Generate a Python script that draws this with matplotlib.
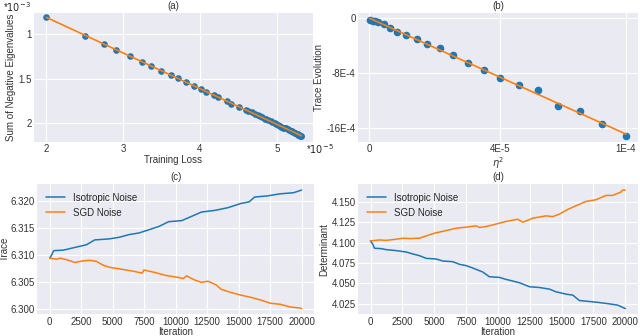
import numpy as np
import matplotlib
matplotlib.use("Agg")
import matplotlib.pyplot as plt

# (a) training loss (x1e-5) vs |sum of negative eigenvalues| (x1e-3)
loss = [2.00, 2.51, 2.75, 2.91, 3.09, 3.25, 3.36, 3.49, 3.62, 3.71, 3.82, 3.92,
        4.02, 4.08, 4.18, 4.24, 4.35, 4.41, 4.51, 4.60, 4.63, 4.68, 4.72, 4.75,
        4.78, 4.81, 4.84, 4.86, 4.89, 4.92, 4.94, 4.97, 4.99, 5.02, 5.04, 5.06,
        5.08, 5.10, 5.12, 5.14, 5.16, 5.18, 5.20, 5.21, 5.23, 5.24, 5.26, 5.27,
        5.28, 5.29, 5.30, 5.31, 5.32]
neg_eig = [0.81, 1.02, 1.11, 1.18, 1.25, 1.31, 1.36, 1.41, 1.46, 1.49, 1.54, 1.58,
           1.62, 1.65, 1.68, 1.71, 1.75, 1.78, 1.82, 1.85, 1.86, 1.88, 1.90, 1.91,
           1.92, 1.93, 1.95, 1.95, 1.97, 1.98, 1.99, 2.00, 2.01, 2.02, 2.03, 2.04,
           2.05, 2.06, 2.06, 2.07, 2.08, 2.09, 2.09, 2.10, 2.11, 2.11, 2.12, 2.12,
           2.13, 2.13, 2.14, 2.14, 2.15]

# (b) eta^2 vs trace evolution
eta2 = [0.65e-6, 1.69e-6, 2.46e-6, 3.76e-6, 5.71e-6, 8.17e-6, 11.15e-6, 14.53e-6,
        18.55e-6, 22.70e-6, 27.63e-6, 32.81e-6, 38.52e-6, 44.62e-6, 51.10e-6,
        58.24e-6, 65.63e-6, 73.41e-6, 81.97e-6, 90.79e-6, 100.0e-6]
trace_evo = [-0.29e-4, -0.34e-4, -0.39e-4, -0.58e-4, -0.87e-4, -1.45e-4, -1.93e-4,
             -2.47e-4, -2.95e-4, -3.77e-4, -4.30e-4, -5.37e-4, -6.57e-4, -7.49e-4,
             -8.75e-4, -9.67e-4, -10.39e-4, -12.76e-4, -13.58e-4, -15.47e-4, -17.21e-4]
b_xticks = [0, 5.1e-5, 1e-4]
b_xticklabels = ["0", "4E-5", "1E-4"]
b_yticks = [0, -8e-4, -16e-4]
b_yticklabels = ["0", "-8E-4", "-16E-4"]

# (c) trace over iterations
c_iso_it = [0, 130, 313, 1095, 2000, 2920, 3570, 4750, 5530, 6310, 7090, 7875,
            8660, 9440, 10480, 11270, 12050, 13090, 14130, 15180, 15830, 16270,
            17260, 18300, 19350, 20000]
c_iso = [6.3094, 6.3099, 6.3108, 6.3109, 6.3114, 6.3119, 6.3128, 6.3130, 6.3133,
         6.3138, 6.3141, 6.3147, 6.3153, 6.3162, 6.3164, 6.3172, 6.3180, 6.3183,
         6.3188, 6.3196, 6.3199, 6.3208, 6.3210, 6.3214, 6.3216, 6.3221]
c_sgd_it = [0, 570, 830, 1360, 2000, 2660, 3180, 3700, 4230, 4750, 5530, 6570,
            7350, 7480, 8400, 9180, 10220, 10610, 10870, 11530, 12050, 12570,
            13220, 13610, 14390, 15180, 15960, 16740, 17520, 18300, 19090, 19500,
            19870, 20000]
c_sgd = [6.3094, 6.3092, 6.3094, 6.3091, 6.3086, 6.3089, 6.3090, 6.3088, 6.3081,
         6.3077, 6.3074, 6.3070, 6.3066, 6.3072, 6.3067, 6.3062, 6.3058, 6.3056,
         6.3061, 6.3053, 6.3049, 6.3051, 6.3044, 6.3036, 6.3030, 6.3025, 6.3021,
         6.3016, 6.3010, 6.3008, 6.3003, 6.3002, 6.3001, 6.3000]

# (d) determinant over iterations
d_iso_it = [0, 180, 314, 850, 1230, 2020, 2800, 3320, 3840, 4370, 5150, 5690,
            6460, 6990, 7500, 8030, 8810, 9330, 10120, 10650, 11170, 11690, 12480,
            13250, 14040, 14560, 15350, 15880, 16390, 17180, 17960, 18740, 19400,
            20000]
d_iso = [4.1023, 4.0982, 4.0933, 4.0928, 4.0916, 4.0904, 4.0887, 4.0863, 4.0842,
         4.0809, 4.0801, 4.0776, 4.0768, 4.0735, 4.0720, 4.0690, 4.0641, 4.0583,
         4.0575, 4.0550, 4.0530, 4.0509, 4.0460, 4.0451, 4.0431, 4.0398, 4.0369,
         4.0357, 4.0291, 4.0279, 4.0266, 4.0250, 4.0234, 4.0192]
d_sgd_it = [0, 700, 1230, 2020, 2540, 3200, 3600, 3840, 4370, 5020, 5930, 6720,
            7500, 8290, 8550, 9070, 9590, 10640, 11560, 11950, 12750, 13780, 14300,
            14820, 15480, 16130, 16910, 17700, 18480, 19000, 19650, 19780, 20000]
d_sgd = [4.1023, 4.1035, 4.1030, 4.1044, 4.1056, 4.1052, 4.1056, 4.1056, 4.1085,
         4.1118, 4.1150, 4.1179, 4.1192, 4.1208, 4.1188, 4.1200, 4.1220, 4.1262,
         4.1290, 4.1253, 4.1303, 4.1331, 4.1322, 4.1352, 4.1410, 4.1455, 4.1508,
         4.1529, 4.1582, 4.1582, 4.1623, 4.1648, 4.1648]

plt.style.use("seaborn-v0_8-darkgrid")
plt.rcParams["font.family"] = ["Liberation Sans", "DejaVu Sans"]
plt.rcParams["font.size"] = 7
plt.rcParams["axes.titlesize"] = 7
plt.rcParams["axes.labelsize"] = 7
plt.rcParams["xtick.labelsize"] = 7
plt.rcParams["ytick.labelsize"] = 7
tc = "#333333"

fig = plt.figure(figsize=(6.4, 3.36), dpi=100)
ax_a = fig.add_axes([0.053, 0.578, 0.436, 0.384])
ax_b = fig.add_axes([0.559, 0.578, 0.438, 0.384])
ax_c = fig.add_axes([0.058, 0.064, 0.433, 0.388])
ax_d = fig.add_axes([0.559, 0.064, 0.438, 0.388])

# (a)
ax_a.scatter(loss, neg_eig, s=14, color="#1f77b4", zorder=3)
pa = np.polyfit(loss, neg_eig, 1)
xa = np.array([min(loss), max(loss)])
ax_a.plot(xa, np.polyval(pa, xa), color="#ff7f0e", lw=1.2, zorder=4)
ax_a.set_xlim(1.84, 5.47)
ax_a.set_ylim(2.21, 0.76)
ax_a.set_xticks([2, 3, 4, 5])
ax_a.set_xticklabels(["2", "3", "4", "5"])
ax_a.set_yticks([1, 1.5, 2])
ax_a.set_yticklabels(["1", "1.5", "2"])
ax_a.set_xlabel("Training Loss", labelpad=1)
ax_a.set_ylabel("Sum of Negative Eigenvalues", labelpad=2)
ax_a.set_title("(a)", pad=3)
fig.text(0.004, 0.978, r"*$10^{-3}$", fontsize=7, va="center")
fig.text(0.478, 0.555, r"*$10^{-5}$", fontsize=7, va="center")

# (b)
ax_b.scatter(eta2, trace_evo, s=20, color="#1f77b4", zorder=3)
pb = np.polyfit(eta2, trace_evo, 1)
xb = np.array([min(eta2) * 0.5, max(eta2)])
ax_b.plot(xb, np.polyval(pb, xb), color="#ff7f0e", lw=1.2, zorder=4)
ax_b.set_xlim(-0.043e-4, 1.047e-4)
ax_b.set_ylim(-18.0e-4, 0.8e-4)
ax_b.set_xticks(b_xticks)
ax_b.set_xticklabels(b_xticklabels)
ax_b.set_yticks(b_yticks)
ax_b.set_yticklabels(b_yticklabels)
ax_b.set_xlabel(r"$\eta^2$", labelpad=1)
ax_b.set_ylabel("Trace Evolution", labelpad=2)
ax_b.set_title("(b)", pad=3)

# (c)
ax_c.plot(c_iso_it, c_iso, color="#1f77b4", lw=1.1, label="Isotropic Noise")
ax_c.plot(c_sgd_it, c_sgd, color="#ff7f0e", lw=1.1, label="SGD Noise")
ax_c.set_xticks(np.arange(0, 20001, 2500))
ax_c.set_yticks([6.300, 6.305, 6.310, 6.315, 6.320])
ax_c.yaxis.set_major_formatter(matplotlib.ticker.FormatStrFormatter("%.3f"))
ax_c.set_xlabel("Iteration", labelpad=0)
ax_c.set_ylabel("Trace", labelpad=1)
ax_c.set_title("(c)", pad=3)
ax_c.legend(loc="upper left", fontsize=7, frameon=False)

# (d)
ax_d.plot(d_iso_it, d_iso, color="#1f77b4", lw=1.1, label="Isotropic Noise")
ax_d.plot(d_sgd_it, d_sgd, color="#ff7f0e", lw=1.1, label="SGD Noise")
ax_d.set_xticks(np.arange(0, 20001, 2500))
ax_d.set_yticks([4.025, 4.050, 4.075, 4.100, 4.125, 4.150])
ax_d.yaxis.set_major_formatter(matplotlib.ticker.FormatStrFormatter("%.3f"))
ax_d.set_xlabel("Iteration", labelpad=0)
ax_d.set_ylabel("Determinant", labelpad=2)
ax_d.set_title("(d)", pad=3)
ax_d.legend(loc="upper left", fontsize=7, frameon=False)

for ax in (ax_a, ax_b, ax_c, ax_d):
    ax.tick_params(colors=tc, pad=1.5)
    ax.xaxis.label.set_color(tc)
    ax.yaxis.label.set_color(tc)
    ax.title.set_color(tc)

fig.savefig("out.png", dpi=100)
